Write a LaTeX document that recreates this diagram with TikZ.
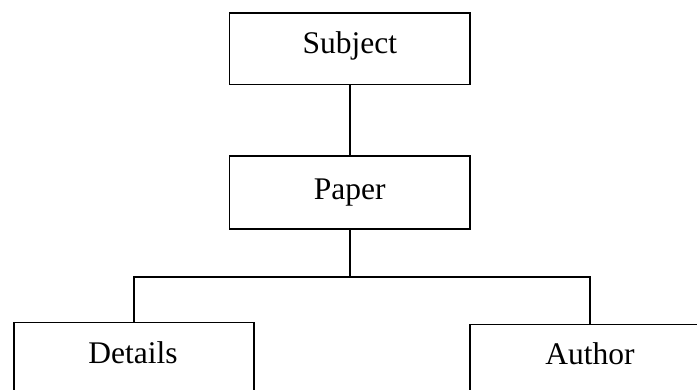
\documentclass[tikz,border=0pt]{standalone}
\usepackage{fontspec}
\setmainfont{Liberation Serif}
\begin{document}
\begin{tikzpicture}[x=1pt,y=-1pt,
  box/.style={draw, line width=1.5pt, rectangle, inner sep=0pt},
  lbl/.style={font=\fontsize{31.5}{36}\selectfont, inner sep=0pt, anchor=base},
  conn/.style={line width=1.5pt}]
\clip (0,0) rectangle (697,390);
\node[box, minimum width=240.5pt, minimum height=71.7pt] (subject) at (349.75,48.85) {};
\node[box, minimum width=240.5pt, minimum height=73pt] (paper) at (349.75,192.5) {};
\node[box, minimum width=240pt, minimum height=120pt, anchor=north] (details) at (134,322) {};
\node[box, minimum width=240pt, minimum height=120pt, anchor=north] (author) at (590,324) {};
\node[lbl] (subjecttext) at (349.75,53.3) {Subject};
\node[lbl] (papertext) at (349.75,200) {Paper};
\node[lbl] (detailstext) at (133,363) {Details};
\node[lbl] (authortext) at (590,365) {Author};
\coordinate (bus) at (349.75,277);
\draw[conn] (subject.south) -- (paper.north);
\draw[conn] (paper.south) -- (bus);
\draw[conn] (details.north) |- (bus) -| (author.north);
\end{tikzpicture}
\end{document}
